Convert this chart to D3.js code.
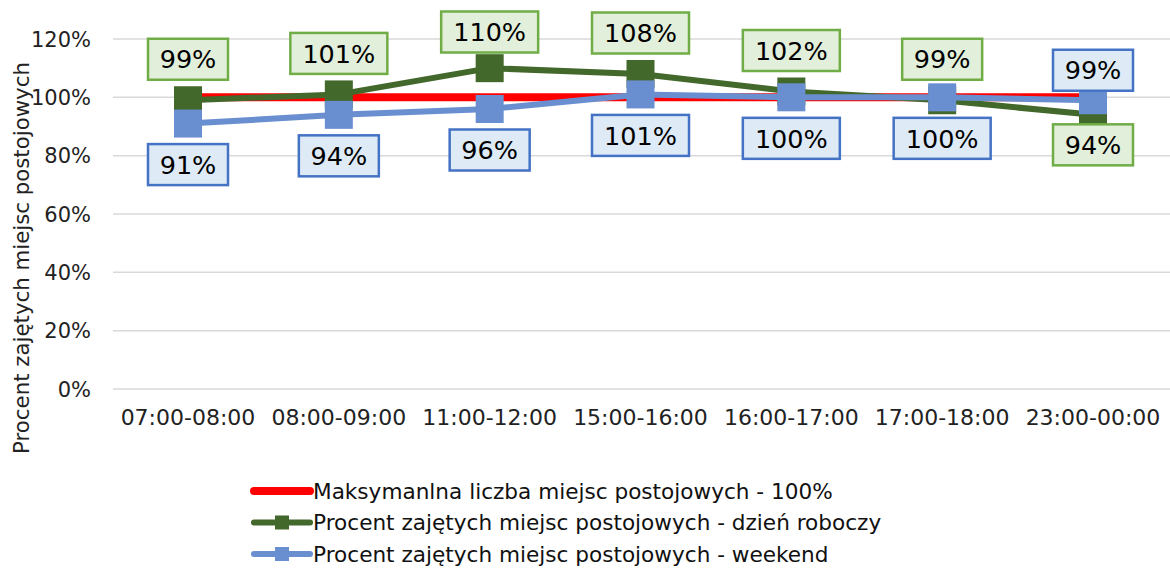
<!DOCTYPE html>
<html>
<head>
<meta charset="utf-8">
<script src="https://cdn.jsdelivr.net/npm/d3@7"></script>
<style>
  body { margin: 0; background: #fff; }
  svg { display: block; font-family: "DejaVu Sans", Verdana, sans-serif; }
</style>
</head>
<body>
<svg id="chart" width="1170" height="572"></svg>
<script>
// chart data
const categories = ["07:00-08:00", "08:00-09:00", "11:00-12:00", "15:00-16:00", "16:00-17:00", "17:00-18:00", "23:00-00:00"];
const maxValues = [100, 100, 100, 100, 100, 100, 100];
const workdayValues = [99, 101, 110, 108, 102, 99, 94];
const weekendValues = [91, 94, 96, 101, 100, 100, 99];
const workdayLabelSide = ["above", "above", "above", "above", "above", "above", "below"];
const weekendLabelSide = ["below", "below", "below", "below", "below", "below", "above"];
const yTicks = [0, 20, 40, 60, 80, 100, 120];
const legendNames = [
  "Maksymanlna liczba miejsc postojowych - 100%",
  "Procent zajętych miejsc postojowych - dzień roboczy",
  "Procent zajętych miejsc postojowych - weekend"
];

const RED = "#ff0000", GREEN = "#43682b", BLUE = "#6a8fd0";

const svg = d3.select("#chart");

const x = d3.scalePoint().domain(categories).range([188, 1093]);
const y = d3.scaleLinear().domain([0, 120]).range([389, 39]);

// gridlines + y ticks
const yAxis = svg.append("g");
yAxis.selectAll("line")
  .data(yTicks)
  .enter().append("line")
  .attr("x1", 113).attr("x2", 1170)
  .attr("y1", d => y(d)).attr("y2", d => y(d))
  .attr("stroke", "#d9d9d9").attr("stroke-width", 1.5);

yAxis.selectAll("text")
  .data(yTicks)
  .enter().append("text")
  .attr("x", 91).attr("y", d => y(d))
  .attr("dy", "0.36em")
  .attr("text-anchor", "end")
  .attr("font-size", "21px")
  .attr("fill", "#222")
  .text(d => d + "%");

// x labels
svg.append("g").selectAll("text")
  .data(categories)
  .enter().append("text")
  .attr("x", d => x(d)).attr("y", 425)
  .attr("text-anchor", "middle")
  .attr("font-size", "22px")
  .attr("fill", "#222")
  .text(d => d);

// y title
svg.append("text")
  .attr("transform", "translate(29,258) rotate(-90)")
  .attr("text-anchor", "middle")
  .attr("font-size", "21.3px")
  .attr("fill", "#222")
  .text("Procent zajętych miejsc postojowych");

const line = d3.line()
  .x((d, i) => x(categories[i]))
  .y(d => y(d));

// red max line
svg.append("path")
  .datum(maxValues)
  .attr("d", line)
  .attr("fill", "none")
  .attr("stroke", RED)
  .attr("stroke-width", 8);

function drawSeries(values, color) {
  svg.append("path")
    .datum(values)
    .attr("d", line)
    .attr("fill", "none")
    .attr("stroke", color)
    .attr("stroke-width", 6)
    .attr("stroke-linejoin", "round");

  svg.append("g").selectAll("rect")
    .data(values)
    .enter().append("rect")
    .attr("x", (d, i) => x(categories[i]) - 14)
    .attr("y", d => y(d) - 14)
    .attr("width", 28).attr("height", 28)
    .attr("fill", color);
}

drawSeries(workdayValues, GREEN);
drawSeries(weekendValues, BLUE);

function drawLabels(values, sides, fill, stroke) {
  const g = svg.append("g");
  values.forEach((v, i) => {
    const swapped = (i === values.length - 1);
    const dist = swapped ? 30 : 41;
    let cy = sides[i] === "above" ? y(v) - dist : y(v) + dist;
    if (cy < 32) cy = 32;
    const txt = v + "%";
    const w = txt.length > 3 ? 97 : 80;
    const cx = x(categories[i]);
    g.append("rect")
      .attr("x", cx - w / 2).attr("y", cy - 20.5)
      .attr("width", w).attr("height", 41)
      .attr("fill", fill)
      .attr("stroke", stroke)
      .attr("stroke-width", 2.5);
    g.append("text")
      .attr("x", cx).attr("y", cy)
      .attr("dy", "0.36em")
      .attr("text-anchor", "middle")
      .attr("font-size", "25.5px")
      .attr("fill", "#000")
      .text(txt);
  });
}

drawLabels(workdayValues, workdayLabelSide, "#e2efda", "#70ad47");
drawLabels(weekendValues, weekendLabelSide, "#deebf7", "#4472c4");

// legend
const legendColors = [RED, GREEN, BLUE];
const legend = svg.append("g");
legendNames.forEach((name, i) => {
  const ly = 491 + i * 31.5;
  legend.append("line")
    .attr("x1", 254).attr("x2", 310)
    .attr("y1", ly).attr("y2", ly)
    .attr("stroke", legendColors[i])
    .attr("stroke-width", i === 0 ? 8 : 6)
    .attr("stroke-linecap", "round");
  if (i > 0) {
    legend.append("rect")
      .attr("x", 275).attr("y", ly - 7)
      .attr("width", 14).attr("height", 14)
      .attr("fill", legendColors[i]);
  }
  legend.append("text")
    .attr("x", 313).attr("y", ly)
    .attr("dy", "0.36em")
    .attr("font-size", "21.6px")
    .attr("fill", "#111")
    .text(name);
});
</script>
</body>
</html>
